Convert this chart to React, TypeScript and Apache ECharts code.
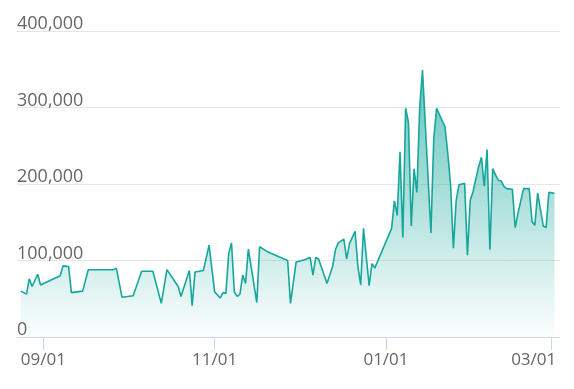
import React, { useEffect, useRef } from "react";
import * as echarts from "echarts";

const dates: string[] = [
  "2018-08-24", "2018-08-26", "2018-08-27", "2018-08-28", "2018-08-30", "2018-08-31",
  "2018-09-07", "2018-09-08", "2018-09-10", "2018-09-11", "2018-09-13", "2018-09-15",
  "2018-09-17", "2018-09-26", "2018-09-27", "2018-09-29", "2018-10-01", "2018-10-03",
  "2018-10-06", "2018-10-10", "2018-10-13", "2018-10-15", "2018-10-19", "2018-10-20",
  "2018-10-23", "2018-10-24", "2018-10-25", "2018-10-28", "2018-10-30", "2018-11-01",
  "2018-11-03", "2018-11-04", "2018-11-05", "2018-11-06", "2018-11-07", "2018-11-08",
  "2018-11-09", "2018-11-10", "2018-11-11", "2018-11-12", "2018-11-13", "2018-11-16",
  "2018-11-17", "2018-11-20", "2018-11-27", "2018-11-28", "2018-11-30", "2018-12-03",
  "2018-12-05", "2018-12-06", "2018-12-07", "2018-12-08", "2018-12-11", "2018-12-13",
  "2018-12-14", "2018-12-15", "2018-12-17", "2018-12-18", "2018-12-19", "2018-12-21",
  "2018-12-22", "2018-12-23", "2018-12-24", "2018-12-26", "2018-12-27", "2018-12-28",
  "2019-01-03", "2019-01-04", "2019-01-05", "2019-01-06", "2019-01-07", "2019-01-08",
  "2019-01-09", "2019-01-10", "2019-01-11", "2019-01-12", "2019-01-13", "2019-01-14",
  "2019-01-17", "2019-01-18", "2019-01-19", "2019-01-22", "2019-01-23", "2019-01-24",
  "2019-01-25", "2019-01-26", "2019-01-27", "2019-01-29", "2019-01-30", "2019-01-31",
  "2019-02-01", "2019-02-03", "2019-02-04", "2019-02-05", "2019-02-06", "2019-02-07",
  "2019-02-08", "2019-02-09", "2019-02-10", "2019-02-11", "2019-02-12", "2019-02-13",
  "2019-02-15", "2019-02-16", "2019-02-17", "2019-02-19", "2019-02-21", "2019-02-22",
  "2019-02-23", "2019-02-24", "2019-02-26", "2019-02-27", "2019-02-28", "2019-03-02",
];

const values: number[] = [
  60000, 56000, 76000, 66000, 82000, 68000,
  80000, 93000, 92000, 58000, 59000, 60000,
  88000, 88000, 90000, 52000, 53000, 54000,
  86000, 86000, 44000, 88000, 66000, 53000,
  87000, 41000, 85000, 87000, 120000, 59000,
  51000, 58000, 57000, 109000, 123000, 59000,
  53000, 56000, 81000, 70000, 115000, 45000,
  118000, 111000, 100000, 44000, 98000, 101000,
  104000, 81000, 104000, 102000, 70000, 92000,
  114000, 123000, 128000, 102000, 122000, 138000,
  92000, 68000, 142000, 67000, 96000, 90000,
  142000, 178000, 159000, 242000, 130000, 299000,
  281000, 145000, 220000, 189000, 300000, 349000,
  136000, 258000, 299000, 275000, 240000, 199000,
  116000, 179000, 199000, 201000, 107000, 179000,
  190000, 223000, 235000, 197000, 245000, 114000,
  220000, 212000, 205000, 204000, 197000, 194000,
  193000, 143000, 162000, 194000, 194000, 151000,
  146000, 188000, 145000, 143000, 189000, 188000,
];

const tickDates: string[] = ["2018-09-01", "2018-11-01", "2019-01-01", "2019-03-01"];
const tickLabels: string[] = ["09/01", "11/01", "01/01", "03/01"];

function toTs(s: string): number {
  const [y, m, d] = s.split("-").map(Number);
  return Date.UTC(y, m - 1, d);
}

export default function App() {
  const ref = useRef<HTMLDivElement>(null);
  useEffect(() => {
    if (!ref.current) return;
    const chart = echarts.init(ref.current, undefined, { renderer: "svg" });
    const tickTs = tickDates.map(toTs);
    const font = "'Open Sans', sans-serif";
    chart.setOption({
      animation: false,
      grid: { left: 17, right: 14, top: 31, bottom: 52 },
      xAxis: {
        type: "value",
        min: Date.UTC(2018, 7, 22, 15),
        max: Date.UTC(2019, 2, 3, 23),
        axisLine: { show: true, lineStyle: { color: "#ccd6eb", width: 1 } },
        axisTick: {
          show: true,
          length: 13,
          lineStyle: { color: "#ccd6eb" },
          customValues: tickTs,
        },
        splitLine: { show: false },
        axisLabel: {
          customValues: tickTs,
          showMinLabel: true,
          showMaxLabel: true,
          color: "#666666",
          fontSize: 17,
          fontFamily: font,
          margin: 13,
          formatter: (v: number) => {
            const i = tickTs.indexOf(v);
            if (i < 0) return "";
            if (i === tickTs.length - 1) return "{last|" + tickLabels[i] + "}";
            return tickLabels[i];
          },
          rich: {
            last: {
              color: "#666666",
              fontSize: 17,
              fontFamily: font,
              padding: [0, 36, 0, 0],
            },
          },
        },
      },
      yAxis: {
        type: "value",
        min: 0,
        max: 400000,
        interval: 100000,
        axisLine: { show: false },
        axisTick: { show: false },
        splitLine: { lineStyle: { color: "#e6e6e6", width: 1 } },
        axisLabel: {
          inside: true,
          verticalAlign: "bottom",
          margin: 0,
          color: "#666666",
          fontSize: 18,
          fontFamily: font,
          formatter: (v: number) => v.toLocaleString("en-US"),
        },
      },
      series: [
        {
          type: "line",
          data: dates.map((d, i) => [toTs(d), values[i]]),
          showSymbol: false,
          symbol: "none",
          lineStyle: { color: "#16a79c", width: 1.6 },
          itemStyle: { color: "#16a79c" },
          areaStyle: {
            color: new echarts.graphic.LinearGradient(0, 0, 0, 1, [
              { offset: 0, color: "rgba(22,167,156,0.95)" },
              { offset: 1, color: "rgba(22,167,156,0.02)" },
            ]),
          },
        },
      ],
    });
    return () => chart.dispose();
  }, []);
  return (
    <div
      ref={ref}
      style={{ position: "fixed", left: 0, top: 0, width: 574, height: 389 }}
    />
  );
}
